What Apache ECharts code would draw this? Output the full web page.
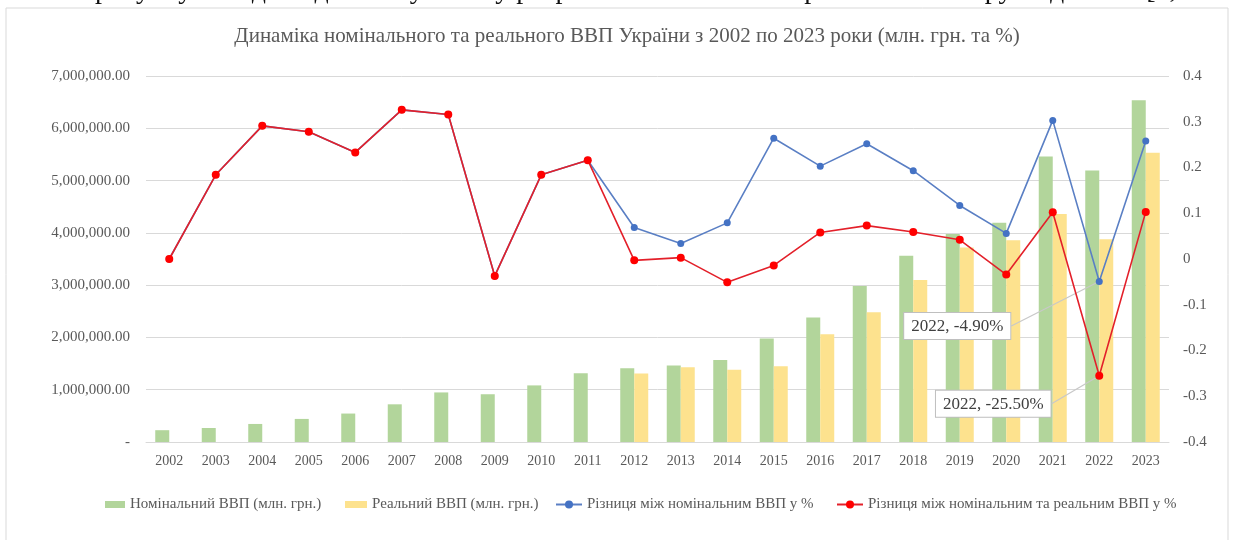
<!DOCTYPE html>
<html>
<head>
<meta charset="utf-8">
<script src="https://cdn.jsdelivr.net/npm/echarts@6/dist/echarts.min.js"></script>
<style>
  html, body { margin: 0; padding: 0; background: #ffffff; }
  #chart { width: 1236px; height: 540px; }
</style>
</head>
<body>
<div id="chart"></div>
<script>
// Роки
const years = ['2002','2003','2004','2005','2006','2007','2008','2009','2010','2011','2012',
               '2013','2014','2015','2016','2017','2018','2019','2020','2021','2022','2023'];

// Номінальний ВВП, млн. грн.
const nominalGdp = [225810, 267344, 345113, 441452, 544153, 720731, 948056, 913345, 1082569, 1316600, 1408889,
                    1465000, 1566728, 1979458, 2383182, 2982920, 3560596, 3977198, 4194102, 5459574, 5191028, 6537825];

// Реальний ВВП, млн. грн. (дані з 2012 року)
const realGdp = [null, null, null, null, null, null, null, null, null, null, 1310000,
                 1430000, 1380000, 1450000, 2060000, 2480000, 3100000, 3720000, 3860000, 4360000, 3880000, 5530000];

// Зміна номінального ВВП, частки
const nominalChange = [0.0, 0.184, 0.291, 0.278, 0.233, 0.326, 0.316, -0.037, 0.184, 0.216, 0.069,
                       0.034, 0.079, 0.264, 0.203, 0.252, 0.193, 0.117, 0.056, 0.303, -0.049, 0.258];

// Різниця між номінальним та реальним ВВП, частки
const realGap = [0.0, 0.184, 0.291, 0.278, 0.233, 0.326, 0.316, -0.037, 0.184, 0.216, -0.003,
                 0.003, -0.051, -0.014, 0.058, 0.073, 0.059, 0.042, -0.034, 0.102, -0.255, 0.103];

// Ліва та права шкали
const leftTicks = { min: 0, max: 7000000, step: 1000000 };
const rightTicks = { min: -0.4, max: 0.4, step: 0.1 };

const calloutYear = '2022';

const serif = '"Liberation Serif", "DejaVu Serif", serif';
const textGray = '#595959';

function fmtMoney(v) {
  if (Math.abs(v) < 1e-6) return '-';
  return v.toLocaleString('en-US', { minimumFractionDigits: 2, maximumFractionDigits: 2 });
}
function fmtShare(v) {
  const r = Math.round(v * 10) / 10;
  return r === 0 ? '0' : String(r);
}

function withCallout(values) {
  const idx = years.indexOf(calloutYear);
  return values.map((v, i) => {
    if (i !== idx) return v;
    return {
      value: v,
      label: {
        show: true,
        formatter: calloutYear + ', ' + (v * 100).toFixed(2) + '%'
      },
      labelLine: { show: true }
    };
  });
}

const calloutLabel = {
  show: false,
  position: 'top',
  fontFamily: serif,
  fontSize: 17,
  color: '#404040',
  backgroundColor: '#ffffff',
  borderColor: '#bfbfbf',
  borderWidth: 1,
  padding: [5, 7, 4, 7]
};

const chart = echarts.init(document.getElementById('chart'), null, { renderer: 'canvas' });

const legendBase = {
  top: 492,
  itemGap: 0,
  textStyle: { fontFamily: serif, fontSize: 15, color: textGray }
};

chart.setOption({
  backgroundColor: '#ffffff',
  animation: false,
  graphic: [
    {
      type: 'rect',
      shape: { x: 6, y: 8, width: 1222, height: 560 },
      style: { fill: '#ffffff', stroke: '#d9d9d9', lineWidth: 1 },
      z: -10
    },
    {
      type: 'text',
      x: 95,
      y: 4.5,
      style: {
        text: 'рисунку наведено динаміку ВВП у розрізі номінального та реального виміру за даними [1, с. 28].',
        font: '28px ' + serif,
        fill: '#111111',
        verticalAlign: 'bottom',
        align: 'left'
      }
    },
    {
      type: 'text',
      x: 627,
      y: 36,
      style: {
        text: 'Динаміка номінального та реального ВВП України з 2002 по 2023 роки (млн. грн. та %)',
        font: '21px ' + serif,
        fill: textGray,
        align: 'center',
        verticalAlign: 'middle'
      }
    }
  ],
  legend: [
    Object.assign({}, legendBase, {
      left: 100, data: [{ name: 'Номінальний ВВП (млн. грн.)', icon: 'rect' }],
      itemWidth: 20, itemHeight: 7
    }),
    Object.assign({}, legendBase, {
      left: 340, data: [{ name: 'Реальний ВВП (млн. грн.)', icon: 'rect' }],
      itemWidth: 22, itemHeight: 7
    }),
    Object.assign({}, legendBase, {
      left: 550, data: ['Різниця між номінальним ВВП у %'],
      itemWidth: 26, itemHeight: 10
    }),
    Object.assign({}, legendBase, {
      left: 831, data: ['Різниця між номінальним та реальним ВВП у %'],
      itemWidth: 26, itemHeight: 10
    })
  ],
  grid: { left: 146, right: 67, top: 76, bottom: 98 },
  xAxis: {
    type: 'category',
    data: years,
    axisTick: { show: false },
    axisLine: { show: true, lineStyle: { color: '#d9d9d9' } },
    axisLabel: { fontFamily: serif, fontSize: 14, color: textGray, margin: 12 }
  },
  yAxis: [
    {
      type: 'value',
      min: leftTicks.min, max: leftTicks.max, interval: leftTicks.step,
      axisLine: { show: false },
      axisTick: { show: false },
      splitLine: { lineStyle: { color: '#d9d9d9', width: 1 } },
      axisLabel: { fontFamily: serif, fontSize: 15, color: textGray, margin: 16, formatter: fmtMoney }
    },
    {
      type: 'value',
      min: rightTicks.min, max: rightTicks.max, interval: rightTicks.step,
      axisLine: { show: false },
      axisTick: { show: false },
      splitLine: { show: false },
      axisLabel: { fontFamily: serif, fontSize: 15, color: textGray, margin: 14, formatter: fmtShare }
    }
  ],
  series: [
    {
      name: 'Номінальний ВВП (млн. грн.)',
      type: 'bar',
      yAxisIndex: 0,
      data: nominalGdp,
      barWidth: 14,
      barGap: '0%',
      itemStyle: { color: '#b2d59b' }
    },
    {
      name: 'Реальний ВВП (млн. грн.)',
      type: 'bar',
      yAxisIndex: 0,
      data: realGdp,
      barWidth: 14,
      barGap: '0%',
      itemStyle: { color: '#fde28e' }
    },
    {
      name: 'Різниця між номінальним ВВП у %',
      type: 'line',
      yAxisIndex: 1,
      data: withCallout(nominalChange),
      symbol: 'circle',
      symbolSize: 7,
      lineStyle: { color: '#5a7fc4', width: 1.6 },
      itemStyle: { color: '#4472c4' },
      label: calloutLabel,
      labelLine: { lineStyle: { color: '#c8c8c8', width: 1.2 } },
      labelLayout: { dx: -142, dy: 66 },
      z: 3
    },
    {
      name: 'Різниця між номінальним та реальним ВВП у %',
      type: 'line',
      yAxisIndex: 1,
      data: withCallout(realGap),
      symbol: 'circle',
      symbolSize: 8,
      lineStyle: { color: '#e3202a', width: 1.6 },
      itemStyle: { color: '#ff0000' },
      label: calloutLabel,
      labelLine: { lineStyle: { color: '#c8c8c8', width: 1.2 } },
      labelLayout: { dx: -106, dy: 50 },
      z: 4
    }
  ]
});
</script>
</body>
</html>
